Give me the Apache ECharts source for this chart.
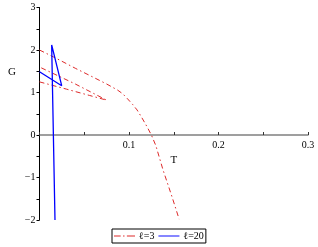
<!DOCTYPE html>
<html>
<head>
<meta charset="utf-8">
<script src="https://cdn.jsdelivr.net/npm/echarts@6/dist/echarts.min.js"></script>
<style>
html,body{margin:0;padding:0;background:#fff;}
#c{width:318px;height:247px;}
</style>
</head>
<body>
<div id="c"></div>
<script>
// l = 3 : main branch and swallowtail (T, G)
const ell3Main = [[0,2.0],[0.02,1.79],[0.04,1.57],[0.06,1.36],[0.075,1.2],[0.087,1.06],[0.093,0.97],[0.098,0.86],[0.104,0.72],[0.109,0.59],[0.114,0.42],[0.12,0.2],[0.125,0.0],[0.13,-0.25],[0.138,-0.82],[0.148,-1.45],[0.156,-1.98]];
const ell3Tail = [[0,1.25],[0.03,1.08],[0.056,0.93],[0.075,0.82],[0.04,1.2],[0,1.6]];
// l = 20
const ell20 = [[0,1.49],[0.0248,1.16],[0.0136,2.12],[0.0173,-2.0]];
const xTicks = [0.1,0.2,0.3];
const yTicks = [-2,-1,0,1,2,3];
const yMin = -2, yMax = 3;

const serif = 'Liberation Serif';
const W = 318, H = 247;
const gridTop = 7.5, gridBottom = 27;
const gridH = H - gridTop - gridBottom;
const zeroOffset = -gridH * (0 - yMin) / (yMax - yMin);
const redStyle = {color:'#dd2a2a', width:1, type:[5,3,1.5,3]};
const chart = echarts.init(document.getElementById('c'));
chart.setOption({
  animation:false,
  grid:{left:39.5,right:10,top:gridTop,bottom:gridBottom,outerBoundsMode:'none',containLabel:false},
  xAxis:{type:'value',min:0,max:0.3,interval:0.05,offset:zeroOffset,
    name:'T',nameLocation:'middle',nameGap:18,
    nameTextStyle:{fontFamily:serif,fontSize:11,color:'#000'},
    axisLine:{onZero:false,lineStyle:{color:'#808080',width:1.5}},
    axisTick:{show:true,inside:true,length:3,lineStyle:{color:'#333'}},
    axisLabel:{fontFamily:serif,fontSize:10,color:'#000',margin:5,showMaxLabel:true,
      formatter:v=>{const r=Math.round(v*100)/100; return xTicks.indexOf(r)>=0?String(r):'';}},
    splitLine:{show:false}},
  yAxis:{type:'value',min:yMin,max:yMax,interval:0.5,
    axisLine:{show:true,onZero:false,lineStyle:{color:'#000',width:1}},
    axisTick:{show:true,length:3,lineStyle:{color:'#000'}},
    axisLabel:{fontFamily:serif,fontSize:10,color:'#000',margin:4,
      formatter:v=>{const r=Math.round(v*10)/10; return yTicks.indexOf(r)>=0?(r<0?'\u2212'+Math.abs(r):String(r)):'';}},
    splitLine:{show:false}},
  graphic:[{type:'text',left:8,top:67,style:{text:'G',font:'11px '+serif,fill:'#000'}}],
  legend:{left:112,top:229,itemWidth:21,itemHeight:1.2,itemGap:4,padding:[2,2,2,2],
    borderColor:'#000',borderWidth:1,
    textStyle:{fontFamily:serif,fontSize:10,color:'#000',padding:[0,0,0,-1]},
    data:[
      {name:'\u2113=3',icon:'path://M0,0h7v1h-7z M9.5,0h1.5v1h-1.5z M13.5,0h8.5v1h-8.5z'},
      {name:'\u2113=20',icon:'path://M0,0h22v1h-22z'}
    ]},
  series:[
    {name:'\u2113=3',type:'line',data:ell3Main,symbol:'none',lineStyle:redStyle,itemStyle:{color:'#dd2a2a'}},
    {name:'\u2113=3',type:'line',data:ell3Tail,symbol:'none',lineStyle:redStyle,itemStyle:{color:'#dd2a2a'}},
    {name:'\u2113=20',type:'line',data:ell20,symbol:'none',lineStyle:{color:'#0000ff',width:1.3},itemStyle:{color:'#0000ff'}}
  ]
});
</script>
</body>
</html>
